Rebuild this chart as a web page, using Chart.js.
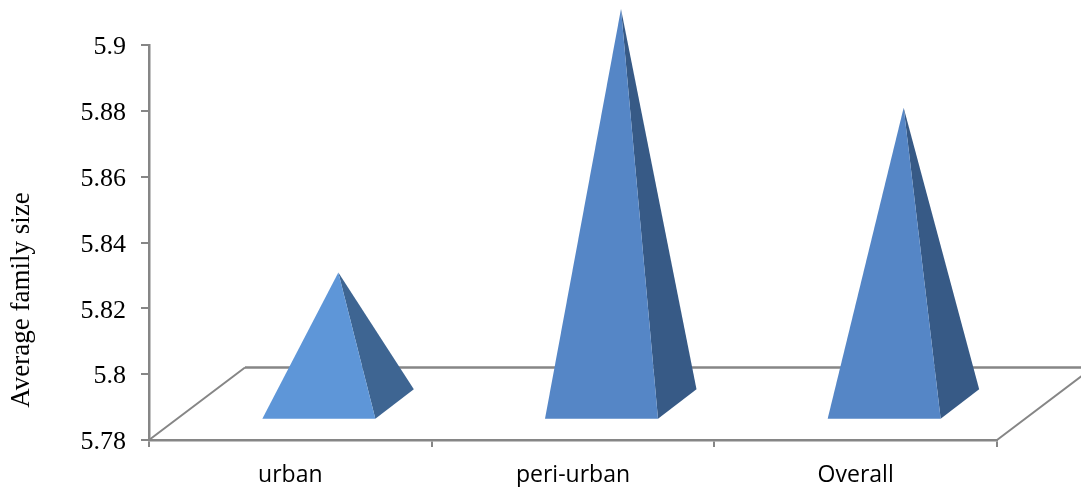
<!DOCTYPE html>
<html>
<head>
<meta charset="utf-8">
<title>Average family size</title>
<script src="https://cdn.jsdelivr.net/npm/chart.js@4/dist/chart.umd.min.js"></script>
<style>
  html, body { margin: 0; padding: 0; background: #fff; }
  canvas { display: block; }
</style>
</head>
<body>
<canvas id="familyChart" width="1081" height="487"></canvas>
<script>
// Chart data
const categories = ['urban', 'peri-urban', 'Overall'];
const familySize = [5.83, 5.91, 5.88];
const yTickValues = [5.78, 5.8, 5.82, 5.84, 5.86, 5.88, 5.9];
const yAxisTitle = 'Average family size';

// Colours, one per pyramid
const frontColors = ['#5e96d8', '#5586c6', '#5586c6'];
const sideColors = ['#3e6592', '#375a86', '#375a86'];
const axisColor = '#868686';

// Draws the floor of the 3D plot before the pyramids
const floorPlugin = {
  id: 'floor',
  beforeDatasetsDraw(chart) {
    const { ctx, chartArea: a } = chart;
    ctx.save();
    ctx.strokeStyle = axisColor;
    ctx.lineWidth = 2;
    ctx.beginPath();
    ctx.moveTo(a.left, a.bottom);
    ctx.lineTo(a.left + 96, a.bottom - 72.5);
    ctx.moveTo(a.right, a.bottom);
    ctx.lineTo(a.right + 96, a.bottom - 72.5);
    ctx.stroke();
    ctx.lineWidth = 2.5;
    ctx.beginPath();
    ctx.moveTo(a.left + 96, a.bottom - 72.5);
    ctx.lineTo(chart.width, a.bottom - 72.5);
    ctx.stroke();
    ctx.restore();
  }
};

// Draws a pyramid on top of each bar
const pyramidPlugin = {
  id: 'pyramids',
  afterDatasetsDraw(chart) {
    const { ctx, chartArea: a, scales: { x, y } } = chart;
    const frontY = a.bottom - 21.3;
    const backY = a.bottom - 50.7;
    familySize.forEach((value, i) => {
      const cx = x.getPixelForValue(i);
      const apexX = cx + 48;
      const apexY = y.getPixelForValue(value) - 3;
      ctx.fillStyle = sideColors[i];
      ctx.beginPath();
      ctx.moveTo(apexX, apexY);
      ctx.lineTo(cx + 85, frontY);
      ctx.lineTo(cx + 123.5, backY);
      ctx.closePath();
      ctx.fill();
      ctx.fillStyle = frontColors[i];
      ctx.beginPath();
      ctx.moveTo(apexX, apexY);
      ctx.lineTo(cx - 28, frontY);
      ctx.lineTo(cx + 85, frontY);
      ctx.closePath();
      ctx.fill();
    });
  }
};

// The axis title sits low on the axis in the original, so it is placed by hand
const titlePlugin = {
  id: 'yTitle',
  afterDraw(chart) {
    const { ctx } = chart;
    ctx.save();
    ctx.translate(22, 300);
    ctx.rotate(-Math.PI / 2);
    ctx.font = '27px "Liberation Serif"';
    ctx.fillStyle = '#000';
    ctx.textAlign = 'center';
    ctx.textBaseline = 'middle';
    ctx.fillText(yAxisTitle, 0, 0);
    ctx.restore();
  }
};

new Chart(document.getElementById('familyChart').getContext('2d'), {
  type: 'bar',
  data: {
    labels: categories,
    datasets: [{
      label: yAxisTitle,
      data: familySize,
      backgroundColor: 'transparent'
    }]
  },
  options: {
    responsive: false,
    animation: false,
    layout: { padding: { top: 45, right: 84 } },
    plugins: {
      legend: { display: false },
      title: { display: false },
      tooltip: { enabled: false }
    },
    scales: {
      x: {
        afterFit: scale => { scale.height = 47; },
        border: { color: axisColor, width: 2.5 },
        grid: {
          offset: true,
          drawOnChartArea: false,
          color: axisColor,
          lineWidth: 2,
          tickLength: 7
        },
        ticks: {
          color: '#000',
          padding: 15,
          maxRotation: 0,
          font: { family: '"Open Sans"', size: 23 }
        }
      },
      y: {
        min: 5.78,
        max: 5.9,
        afterBuildTicks: scale => { scale.ticks = yTickValues.map(v => ({ value: v })); },
        afterFit: scale => { scale.width = 149; },
        border: { color: axisColor, width: 2.5 },
        grid: {
          drawOnChartArea: false,
          color: axisColor,
          lineWidth: 2,
          tickLength: 8
        },
        ticks: {
          color: '#000',
          padding: 15,
          // empty first line + small line height nudges the label down a little
          callback: value => ['', String(value)],
          font: { family: '"Liberation Serif"', size: 26, lineHeight: '5px' }
        }
      }
    }
  },
  plugins: [floorPlugin, pyramidPlugin, titlePlugin]
});
</script>
</body>
</html>
